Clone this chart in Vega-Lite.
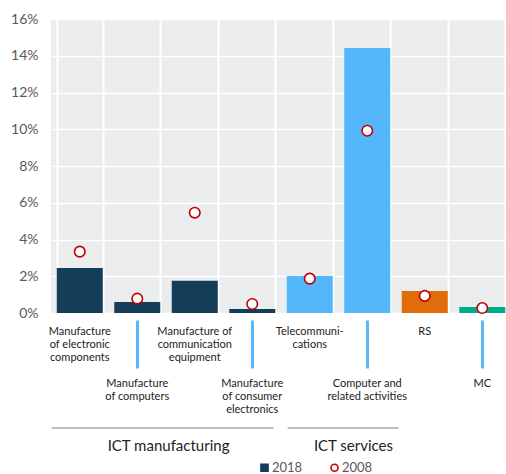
{
  "$schema": "https://vega.github.io/schema/vega-lite/v6.json",
  "width": 460,
  "height": 294,
  "padding": {"left": 10, "top": 12, "right": 0, "bottom": 0},
  "config": {
    "font": "Lato",
    "view": {"fill": "#ebecee", "stroke": null},
    "axisY": {"grid": true, "gridColor": "#ffffff", "gridWidth": 1.5, "domain": false, "ticks": false, "labelFontSize": 14, "labelColor": "#595959", "labelPadding": 13, "title": null}
  },
  "datasets": {
    "main": [
      {"category": "Manufacture\nof electronic\ncomponents", "grp": "mfg", "2018": 0.0245, "2008": 0.0334},
      {"category": "Manufacture\nof computers", "grp": "mfg", "2018": 0.006, "2008": 0.0078},
      {"category": "Manufacture of\ncommunication\nequipment", "grp": "mfg", "2018": 0.0176, "2008": 0.0546},
      {"category": "Manufacture\nof consumer\nelectronics", "grp": "mfg", "2018": 0.0022, "2008": 0.0049},
      {"category": "Telecommuni-\ncations", "grp": "svc", "2018": 0.0201, "2008": 0.0187},
      {"category": "Computer and\nrelated activities", "grp": "svc", "2018": 0.1442, "2008": 0.0992},
      {"category": "RS", "grp": "RS", "2018": 0.012, "2008": 0.0093},
      {"category": "MC", "grp": "MC", "2018": 0.0033, "2008": 0.0027}
    ],
    "groups": [
      {"group": "ICT manufacturing", "start": "Manufacture\nof electronic\ncomponents", "end": "Manufacture\nof consumer\nelectronics", "mid": "Manufacture\nof computers"},
      {"group": "ICT services", "start": "Telecommuni-\ncations", "end": "Computer and\nrelated activities", "mid": "Computer and\nrelated activities"}
    ]
  },
  "resolve": {"axis": {"x": "independent"}},
  "layer": [
    {
      "data": {"name": "main"},
      "mark": {"type": "bar"},
      "encoding": {
        "x": {
          "field": "category", "type": "nominal", "sort": null,
          "scale": {"domain": ["Manufacture\nof electronic\ncomponents", "Manufacture\nof computers", "Manufacture of\ncommunication\nequipment", "Manufacture\nof consumer\nelectronics", "Telecommuni-\ncations", "Computer and\nrelated activities", "RS", "MC"], "paddingInner": 0.2, "paddingOuter": 0.1},
          "axis": {"orient": "top", "grid": true, "gridColor": "#ffffff", "gridWidth": 2, "tickBand": "extent", "labels": false, "ticks": false, "domain": false, "title": null, "zindex": 0}
        },
        "y": {"field": "2018", "type": "quantitative", "scale": {"domain": [0, 0.16], "nice": false}, "axis": {"format": ".0%", "tickCount": 8, "title": null}},
        "color": {"field": "grp", "type": "nominal", "scale": {"domain": ["mfg", "svc", "RS", "MC"], "range": ["#143d59", "#55b7fb", "#e36c0a", "#00ad8a"]}, "legend": null}
      }
    },
    {
      "data": {"name": "main"},
      "transform": [{"fold": ["2008"], "as": ["series", "value"]}],
      "mark": {"type": "point", "shape": "circle", "filled": true, "strokeWidth": 1.6, "size": 110, "opacity": 1},
      "encoding": {
        "x": {
          "field": "category", "type": "nominal", "sort": null,
          "axis": {
            "orient": "bottom", "title": null, "domain": false, "ticks": true, "tickSize": 55, "tickWidth": 3,
            "tickDash": [0, 7, 48, 100],
            "tickColor": {"condition": {"test": "round(datum.index*7) % 2 == 1", "value": "#5bb8f8"}, "value": "transparent"},
            "labelPadding": -43, "labelAngle": 0, "labelAlign": "center", "labelBaseline": "top",
            "labelFontSize": 11, "labelColor": "#222222", "labelLineHeight": 13, "labelOverlap": false, "labelLimit": 0,
            "labelExpr": "split((round(datum.index*7) % 2 == 1 ? '\u200b\\n\u200b\\n\u200b\\n\u200b\\n' : '') + datum.label, '\\n')"
          }
        },
        "y": {"field": "value", "type": "quantitative"},
        "fill": {"field": "series", "type": "nominal", "scale": {"domain": ["2018", "2008"], "range": ["#143d59", "#ffffff"]}, "legend": {"title": null}},
        "stroke": {"field": "series", "type": "nominal", "scale": {"domain": ["2018", "2008"], "range": ["#143d59", "#c00000"]}, "legend": {"title": null}},
        "shape": {
          "field": "series", "type": "nominal",
          "scale": {"domain": ["2018", "2008"], "range": ["square", "circle"]},
          "legend": {
            "title": null, "orient": "none", "direction": "horizontal", "legendX": 207, "legendY": 442,
            "labelFontSize": 13, "labelColor": "#595959", "symbolSize": 50, "symbolStrokeWidth": 1.6, "labelOffset": 1, "columnPadding": 24
          }
        }
      }
    },
    {
      "data": {"name": "groups"},
      "transform": [{"filter": "datum.group == 'ICT manufacturing'"}],
      "mark": {"type": "rule", "color": "#7f7f7f", "strokeWidth": 1},
      "encoding": {
        "x": {"field": "start", "type": "nominal", "bandPosition": -0.11, "axis": null},
        "x2": {"field": "end", "bandPosition": 0.96},
        "y": {"datum": -0.0626, "type": "quantitative"}
      }
    },
    {
      "data": {"name": "groups"},
      "transform": [{"filter": "datum.group == 'ICT services'"}],
      "mark": {"type": "rule", "color": "#7f7f7f", "strokeWidth": 1},
      "encoding": {
        "x": {"field": "start", "type": "nominal", "bandPosition": 0.02, "axis": null},
        "x2": {"field": "end", "bandPosition": 1.18},
        "y": {"datum": -0.0626, "type": "quantitative"}
      }
    },
    {
      "data": {"name": "groups"},
      "transform": [{"filter": "datum.group == 'ICT manufacturing'"}],
      "mark": {"type": "text", "fontSize": 15, "color": "#222222", "baseline": "middle", "align": "center"},
      "encoding": {
        "x": {"field": "mid", "type": "nominal", "bandPosition": 1.18, "axis": null},
        "y": {"datum": -0.0724, "type": "quantitative"},
        "text": {"field": "group"}
      }
    },
    {
      "data": {"name": "groups"},
      "transform": [{"filter": "datum.group == 'ICT services'"}],
      "mark": {"type": "text", "fontSize": 15, "color": "#222222", "baseline": "middle", "align": "center"},
      "encoding": {
        "x": {"field": "start", "type": "nominal", "bandPosition": 1.45, "axis": null},
        "y": {"datum": -0.0724, "type": "quantitative"},
        "text": {"field": "group"}
      }
    }
  ]
}
